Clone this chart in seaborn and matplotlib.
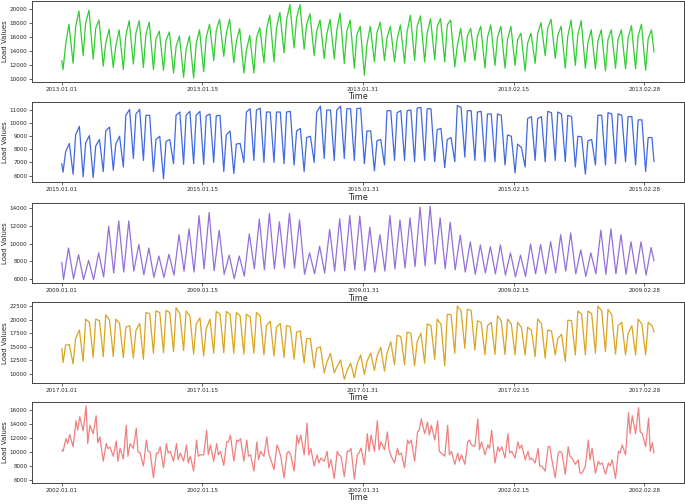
import pandas as pd
import numpy as np
import matplotlib
matplotlib.use("Agg")
import matplotlib.pyplot as plt
import matplotlib.dates as mdates
import matplotlib.ticker as mticker
import seaborn as sns

sns.set_style("ticks")
plt.rcParams['font.family'] = ['DejaVu Sans']

# Valores: um valor por dia para cada fase do ciclo diário
# (vale da madrugada, meio da manhã, pico da tarde), 59 dias por série.

# --- 2013 (verde) ---
verde_vale = [11300, 12200, 13300, 12800, 11800, 11600, 11300, 12100, 11600, 11300,
              11200, 10800, 10200, 10100, 11000, 12600, 13200, 12300, 10800, 10800,
              12300, 12400, 13700, 14400, 14200, 13300, 12900, 12800, 12200, 11500,
              10500, 12400, 12600, 12400, 12200, 12600, 12400, 12700, 12400, 11700,
              12400, 12600, 11500, 11900, 11500, 11900, 11100, 12200, 13300, 12900,
              11500, 11900, 11500, 11400, 11100, 11500, 11400, 11400, 11200]
verde_meio = [14800, 17400, 18000, 17200, 15100, 14700, 16200, 16500, 16400, 15700,
              15500, 14600, 14200, 15000, 15900, 16900, 16500, 15300, 14000, 15800,
              17000, 17300, 18400, 18700, 17800, 16800, 16300, 16900, 16800, 16300,
              14900, 16600, 15900, 15600, 16700, 17500, 16500, 17500, 17700, 14700,
              16100, 16100, 15900, 15900, 15600, 15600, 15100, 16500, 17200, 16200,
              16100, 16300, 15100, 15400, 15600, 15600, 15800, 16100, 15700]
verde_pico = [17800, 19700, 19800, 18400, 17100, 17000, 18300, 18300, 18100, 16800,
              16700, 16100, 16100, 17000, 17800, 18500, 18500, 17200, 16200, 17300,
              19100, 19500, 20600, 20600, 19300, 18400, 18500, 19400, 18400, 17500,
              17500, 18100, 17500, 17700, 19100, 19000, 18600, 18600, 18400, 17200,
              17200, 17500, 17700, 17500, 17500, 16500, 16500, 18000, 18500, 17500,
              18400, 18300, 17000, 17000, 17000, 17000, 17600, 17800, 17000]
verde_ini, verde_fim = 12600, 13800

# --- 2015 (azul) ---
azul_vale = [6250, 6100, 5900, 5850, 6300, 6400, 6650, 7300, 7150, 6300,
             5750, 6900, 6850, 6900, 6850, 7000, 6300, 6150, 7000, 7150,
             7000, 7000, 6900, 6800, 6300, 7000, 7300, 7150, 7300, 7150,
             6900, 6350, 6800, 7150, 7150, 7050, 7150, 7050, 6600, 7050,
             7400, 7150, 7050, 7050, 6800, 6200, 6650, 7150, 7050, 7150,
             7050, 6650, 6100, 6800, 6800, 6900, 7050, 6800, 6300]
azul_meio = [7800, 9100, 8500, 8250, 9400, 8400, 10600, 10700, 10600, 8750,
             8600, 10600, 10600, 10600, 10550, 10550, 9100, 8400, 10850, 11000,
             10850, 10850, 10850, 9400, 8900, 10850, 11000, 11000, 11100, 11100,
             9400, 8650, 10950, 10800, 10950, 11150, 11100, 9500, 8750, 11350,
             10950, 10850, 10700, 10700, 9100, 8400, 10350, 10350, 10900, 10850,
             10600, 9000, 8650, 10600, 10800, 10700, 10500, 10250, 8900]
azul_pico = [8450, 9750, 9050, 8750, 9700, 9000, 11050, 11050, 10600, 9000,
             8750, 10850, 10900, 10900, 10700, 10600, 9400, 8450, 11100, 11150,
             10850, 10850, 10900, 9600, 9000, 11300, 11000, 11300, 11100, 11150,
             9400, 8750, 10950, 10950, 11000, 11200, 11100, 9600, 8900, 11200,
             10950, 10900, 10700, 10600, 9000, 8150, 10500, 10500, 10800, 10700,
             10500, 8950, 8750, 10600, 10700, 10600, 10500, 10250, 8900]
azul_ini, azul_fim = 6900, 7050

# --- 2009 (roxo): vale e pico ---
roxo_vale = [5950, 6050, 5950, 5950, 6250, 6700, 6800, 6900, 6500, 6200,
             6200, 6450, 6900, 6800, 7150, 6950, 6550, 6050, 6350, 7150,
             7050, 7150, 7250, 7250, 6550, 6600, 6700, 6900, 6950, 7050,
             6950, 6800, 6900, 7150, 7250, 7400, 7500, 7700, 7150, 7050,
             6800, 6550, 6700, 6600, 6450, 6250, 6300, 6600, 6600, 6700,
             6900, 6600, 6300, 6600, 6550, 6600, 6550, 6600, 6450]
roxo_pico = [9500, 8750, 8100, 8950, 11950, 12550, 12550, 9900, 9500, 8600,
             8800, 11000, 11650, 13150, 13500, 11500, 8700, 8600, 11100, 12750,
             13400, 12450, 13400, 12650, 8950, 9700, 11600, 12800, 13150, 13100,
             11850, 11000, 13150, 12650, 12900, 14100, 14200, 12900, 12400, 10950,
             10200, 9850, 9650, 9850, 8950, 8700, 9950, 9900, 10200, 11000,
             11200, 9300, 8950, 11500, 11650, 11000, 10200, 10200, 9550]
roxo_ini, roxo_fim = 7900, 8050

# --- 2017 (laranja) ---
laranja_vale = [12100, 11850, 12300, 13050, 13200, 13200, 13000, 12900, 12700, 13800,
                13900, 14100, 14300, 13650, 13300, 13800, 13900, 13800, 13650, 13800,
                13500, 13300, 13050, 12700, 12000, 11100, 10200, 10200, 9000, 9300,
                9900, 10650, 10500, 11700, 11700, 11500, 12000, 12700, 11500, 13800,
                14700, 14400, 13500, 13600, 13600, 13500, 13500, 13200, 12900, 13500,
                12300, 13500, 13500, 13800, 14100, 13650, 13500, 13500, 13500]
laranja_meio = [15300, 16500, 20100, 20100, 20900, 20100, 18600, 18000, 21300, 21600,
                21700, 22200, 21600, 19200, 18300, 21500, 21500, 21300, 21000, 21300,
                18900, 18600, 18900, 17700, 16500, 14700, 12100, 11250, 10500, 11700,
                12300, 13200, 13800, 17100, 17700, 15900, 19200, 20100, 21000, 22500,
                21900, 19800, 18900, 20700, 20100, 19500, 18600, 20100, 18100, 16500,
                19900, 21600, 21600, 22500, 21900, 18900, 17400, 20100, 19500]
laranja_pico = [15400, 18100, 19500, 19800, 19900, 19300, 18900, 19300, 21100, 21300,
                21300, 21100, 20700, 20300, 20100, 21000, 21000, 20700, 20500, 20700,
                19700, 19300, 18700, 17900, 16500, 15000, 13800, 12600, 12000, 13500,
                13800, 14900, 15900, 16900, 17500, 17500, 18900, 19200, 20900, 21600,
                21700, 19500, 19500, 19800, 19200, 18600, 18100, 19300, 17900, 17300,
                19800, 21000, 21100, 21600, 20900, 19500, 18900, 19200, 18900]
laranja_ini, laranja_fim = 14700, 17700

# --- 2002 (vermelho): vale, pico da manhã, queda, pico da noite ---
verm_vale = [10100, 10750, 13000, 12600, 8700, 9400, 9000, 10500, 8000, 6350,
             7750, 8700, 8700, 7300, 9600, 8700, 8100, 8700, 8700, 7300,
             9400, 7500, 6350, 7300, 9600, 8000, 8700, 6250, 6500, 6150,
             8200, 10100, 10300, 8450, 7750, 8700, 12600, 11700, 9400, 8250,
             8250, 10800, 9600, 8450, 9150, 9150, 8900, 8450, 7300, 6350,
             6850, 8250, 8000, 7000, 6850, 6250, 9600, 12600, 10750]
verm_pico1 = [11900, 14450, 16550, 15150, 11200, 11550, 13800, 13400, 11700, 9850,
              11200, 11200, 11000, 11700, 13100, 11200, 11450, 11700, 11700, 11450,
              12150, 11000, 9850, 12400, 14100, 9600, 10100, 10100, 10100, 9600,
              12600, 14450, 12850, 10550, 11700, 12850, 14250, 14450, 13800, 9850,
              11450, 14700, 11000, 10750, 12600, 11450, 10100, 10500, 10750, 9850,
              10750, 8900, 11700, 8700, 8450, 10100, 15600, 16300, 14800]
verm_queda = [11200, 13100, 11200, 11300, 10500, 8700, 9400, 10000, 10100, 9800,
              9850, 8900, 8450, 9400, 9600, 9600, 11450, 11500, 9400, 8900,
              9850, 10500, 10100, 11200, 9600, 8450, 7750, 9600, 10100, 9850,
              10100, 10300, 10300, 9600, 11200, 13100, 12400, 10100, 9600, 8700,
              11700, 10300, 10500, 10100, 9850, 10500, 8900, 8000, 10800, 10100,
              9400, 7000, 8900, 8250, 8000, 9850, 12600, 12850, 10100]
verm_pico2 = [12500, 15000, 13800, 12150, 10700, 10500, 11200, 9900, 10000, 10750,
              10100, 9850, 9400, 9600, 11000, 10100, 12400, 11900, 9600, 10100,
              9000, 9400, 9600, 12400, 10500, 9150, 8900, 9400, 10500, 10550,
              12400, 11450, 9400, 9850, 11700, 14700, 13800, 9850, 10100, 9600,
              11000, 11450, 13100, 10750, 10100, 11000, 9150, 8000, 8900, 9850,
              9150, 7000, 10550, 8450, 8900, 11000, 15150, 12600, 11300]
verm_ini, verm_fim = 10300, 9850


def montar_serie(inicio, fases, horas, valor_ini, valor_fim):
    """Junta os valores diários numa série horária (hora de cada fase fixa)."""
    n_dias = len(fases[0])
    tempos = [0.0]
    valores = [valor_ini]
    for d in range(n_dias):
        for fase, h in zip(fases, horas):
            tempos.append(d * 24 + h)
            valores.append(fase[d])
    tempos.append((n_dias - 1) * 24 + 23)
    valores.append(valor_fim)
    datas = pd.Timestamp(inicio) + pd.to_timedelta(tempos, unit="h")
    return pd.DataFrame({"Time": datas, "Load": valores})


series = [
    (montar_serie("2013-01-01", [verde_vale, verde_meio, verde_pico], [3, 9, 17],
                  verde_ini, verde_fim), "limegreen", 2013, 2000),
    (montar_serie("2015-01-01", [azul_vale, azul_meio, azul_pico], [3, 9, 18],
                  azul_ini, azul_fim), "royalblue", 2015, 1000),
    (montar_serie("2009-01-01", [roxo_vale, roxo_pico], [4, 16],
                  roxo_ini, roxo_fim), "mediumpurple", 2009, 2000),
    (montar_serie("2017-01-01", [laranja_vale, laranja_meio, laranja_pico], [3, 9, 18],
                  laranja_ini, laranja_fim), "goldenrod", 2017, 2500),
    (montar_serie("2002-01-01", [verm_vale, verm_pico1, verm_queda, verm_pico2], [3, 10, 14, 19],
                  verm_ini, verm_fim), "lightcoral", 2002, 2000),
]

# Gráfico: cinco painéis empilhados.

fig = plt.figure(figsize=(6.85, 5.04), dpi=100)
baixos = [0.838, 0.638, 0.438, 0.240, 0.042]

for (dados, cor, ano, passo), baixo in zip(series, baixos):
    ax = fig.add_axes([0.047, baixo, 0.951, 0.160])
    sns.lineplot(data=dados, x="Time", y="Load", color=cor, linewidth=0.9,
                 estimator=None, ax=ax)
    marcas = pd.to_datetime([f"{ano}-01-01", f"{ano}-01-15", f"{ano}-01-31",
                             f"{ano}-02-15", f"{ano}-02-28"])
    ax.set_xticks(marcas)
    ax.xaxis.set_major_formatter(mdates.DateFormatter("%Y.%m.%d"))
    ax.yaxis.set_major_locator(mticker.MultipleLocator(passo))
    ax.tick_params(labelsize=4.1, length=2, width=0.5, pad=1.5)
    ax.set_xlabel("Time", fontsize=5.8, labelpad=0.3)
    ax.set_ylabel("Load Values", fontsize=5.0, labelpad=1.5)
    for s in ax.spines.values():
        s.set_linewidth(0.7)
        s.set_color("#444444")

plt.savefig("out.png", dpi=100)
